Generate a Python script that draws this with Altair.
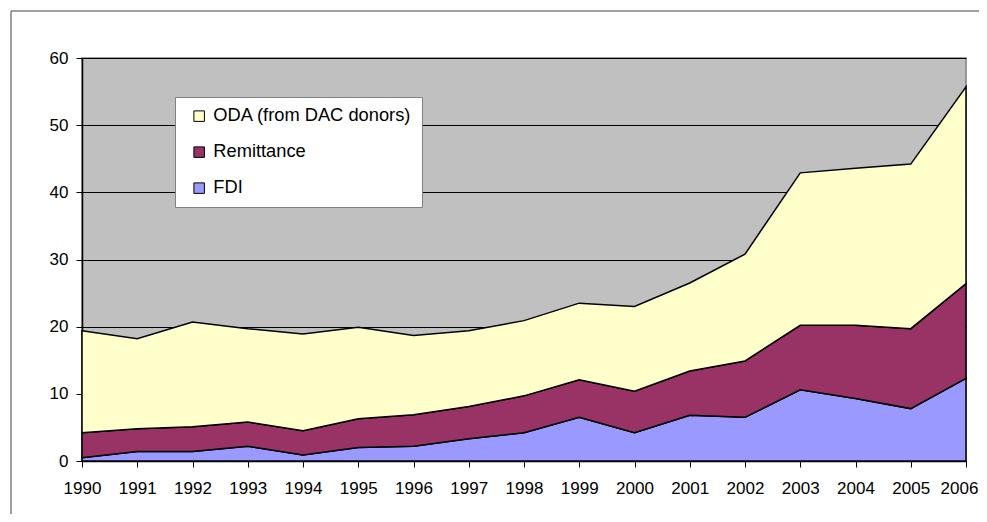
import altair as alt
import pandas as pd

years = list(range(1990, 2007))
fdi = [0.5, 1.4, 1.4, 2.2, 0.9, 2.0, 2.2, 3.3, 4.2, 6.5, 4.2, 6.8, 6.5, 10.6, 9.3, 7.8, 12.3]
remittance = [3.7, 3.4, 3.7, 3.6, 3.6, 4.3, 4.7, 4.8, 5.5, 5.6, 6.2, 6.6, 8.4, 9.6, 10.9, 11.9, 14.1]
oda = [15.2, 13.4, 15.6, 13.9, 14.4, 13.6, 11.8, 11.3, 11.2, 11.4, 12.6, 13.1, 15.9, 22.7, 23.4, 24.5, 29.3]

series_names = ["ODA (from DAC donors)", "Remittance", "FDI"]
series_colors = ["#FFFFCC", "#993366", "#9999FF"]
stack_rank = {"FDI": 0, "Remittance": 1, "ODA (from DAC donors)": 2}

rows = []
for name, vals in [("FDI", fdi), ("Remittance", remittance), ("ODA (from DAC donors)", oda)]:
    for yr, v in zip(years, vals):
        rows.append({"year": yr, "value": v, "series": name, "rank": stack_rank[name]})
df = pd.DataFrame(rows)

W, H = 884, 403
FONT = "Liberation Sans"

areas = alt.Chart(df).mark_area(stroke="black", strokeWidth=1.5, opacity=1).encode(
    x=alt.X("year:Q",
            scale=alt.Scale(domain=[1990, 2006], nice=False, zero=False),
            axis=alt.Axis(values=years, format="d", title=None, grid=False,
                          tickSize=6, labelPadding=13, tickColor="black",
                          domainColor="black", domainWidth=1.5,
                          labelFontSize=17, labelFont=FONT, labelColor="black",
                          labelFlush=False, labelOverlap=False,
                          labelOffset={"condition": {"test": "datum.value == 2006", "value": -7},
                                       "value": 0})),
    y=alt.Y("value:Q", stack="zero",
            scale=alt.Scale(domain=[0, 60], nice=False),
            axis=alt.Axis(values=[0, 10, 20, 30, 40, 50, 60], title=None, grid=True,
                          gridColor="black", gridWidth=1, gridOpacity=1,
                          tickSize=6, labelPadding=8, tickColor="black",
                          domainColor="black", domainWidth=1.5,
                          labelFontSize=17, labelFont=FONT, labelColor="black")),
    color=alt.Color("series:N",
                    scale=alt.Scale(domain=series_names, range=series_colors),
                    legend=alt.Legend(title=None, orient="none", legendX=93, legendY=39,
                                      fillColor="white", strokeColor="#808080",
                                      padding=10, symbolType="square", symbolSize=110,
                                      symbolStrokeColor="black", symbolStrokeWidth=1,
                                      symbolOffset=5, labelOffset=5, rowPadding=17,
                                      labelLimit=0,
                                      labelFont=FONT, labelFontSize=18.3, labelColor="black")),
    order=alt.Order("rank:Q", sort="ascending"),
)

one = pd.DataFrame({"a": [0]})
frame_top = alt.Chart(one).mark_rule(stroke="#808080", strokeWidth=1.5).encode(
    x=alt.value(-71), x2=alt.value(W + 60), y=alt.value(-47)
)
frame_left = alt.Chart(one).mark_rule(stroke="#808080", strokeWidth=1.5).encode(
    x=alt.value(-71), y=alt.value(-47), y2=alt.value(H + 80)
)

chart = alt.layer(areas, frame_top, frame_left).properties(
    width=W, height=H,
    autosize=alt.AutoSizeParams(type="none"),
    padding={"left": 74, "top": 50, "right": 13, "bottom": 53},
    background="white",
).configure_view(
    fill="#C0C0C0", stroke="#808080", strokeWidth=1.5
)

chart.save("out.html", embed_options={"renderer": "svg", "actions": False})
